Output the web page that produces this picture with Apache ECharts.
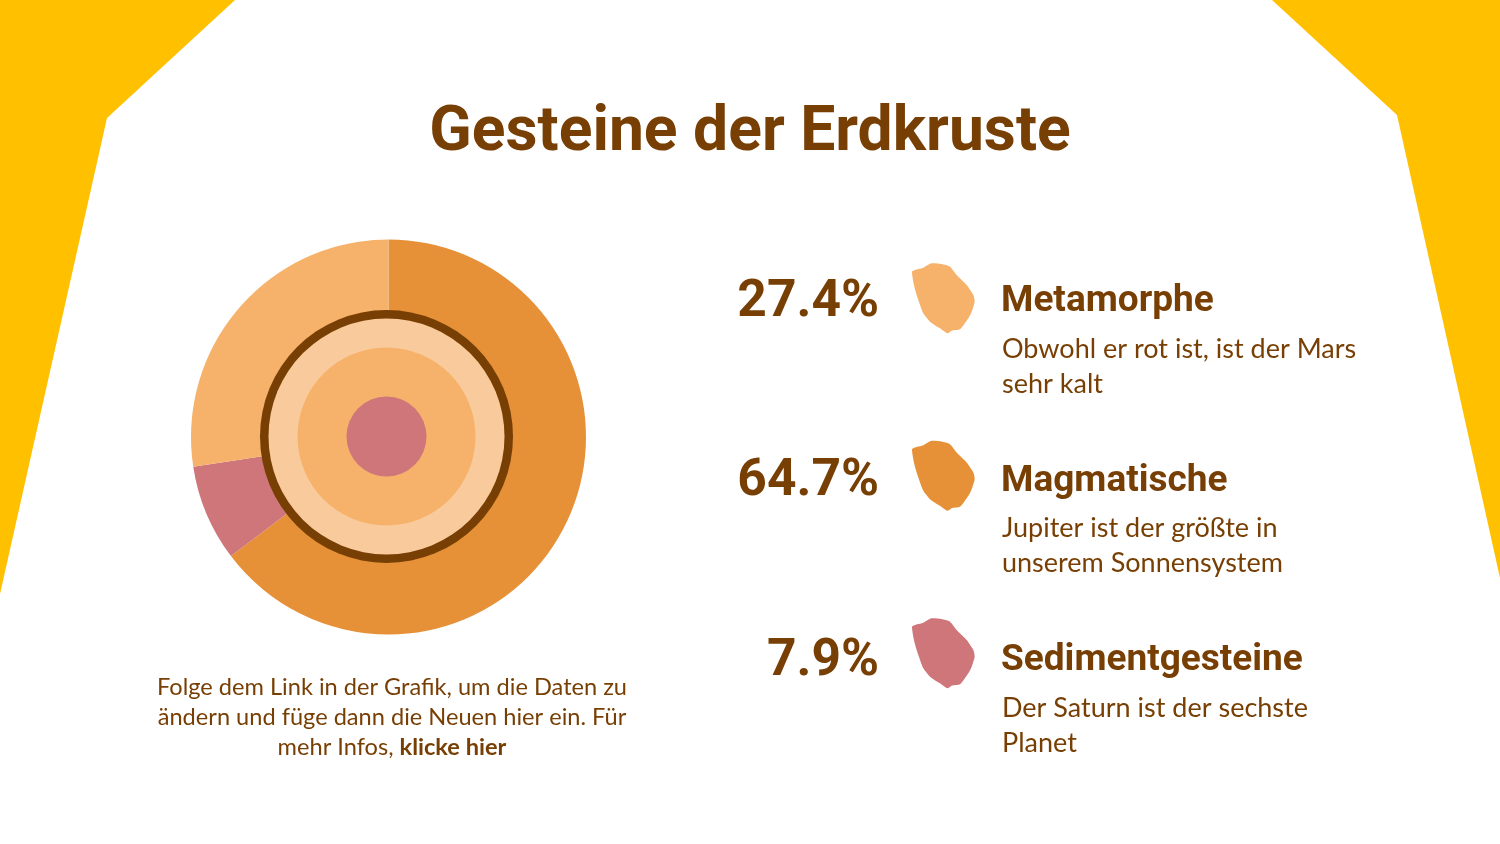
<!DOCTYPE html>
<html><head><meta charset="utf-8">
<style>html,body{margin:0;padding:0;background:#fff}#c{width:1500px;height:844px}</style>
<script src="https://cdn.jsdelivr.net/npm/echarts@6/dist/echarts.min.js"></script>
</head><body><div id="c"></div>
<script>
const categories = ['Magmatische','Sedimentgesteine','Metamorphe'];
const shares = [64.7, 7.9, 27.4];
const sliceColors = ['#e69138','#ce767a','#f6b26b'];
const legendOrder = ['Metamorphe','Magmatische','Sedimentgesteine'];
const legendPct = ['27.4%','64.7%','7.9%'];
const legendColors = ['#f6b26b','#e69138','#ce767a'];
const legendText = [
  ['Obwohl er rot ist, ist der Mars','sehr kalt'],
  ['Jupiter ist der größte in','unserem Sonnensystem'],
  ['Der Saturn ist der sechste','Planet']
];
const BROWN = '#783f04', YELLOW = '#ffc000';
const HEAD = 'Roboto', BODY = 'Lato';
const blob = [[576,65],[585,60],[605,55],[620,47],[635,40],[665,42],[690,50],[710,75],[740,105],[760,135],[764,155],[755,185],[745,205],[720,238],[695,242],[682,250],[660,235],[630,215],[610,190],[595,150],[583,110]]
  .map(p => [720 + p[0] / 3, 250 + p[1] / 3]);
const rowStep = [0, 177.5, 355];
const rowY = [303, 482.5, 662];

const graphic = [
  {type:'polygon',shape:{points:[[0,0],[235,0],[107,118],[0,594]]},style:{fill:YELLOW}},
  {type:'polygon',shape:{points:[[1272,0],[1500,0],[1500,578],[1397,115]]},style:{fill:YELLOW}},
  {type:'text',x:750,y:134,style:{text:'Gesteine der Erdkruste',fill:BROWN,font:'700 62.4px '+HEAD,align:'center',verticalAlign:'middle'}},
  {type:'text',x:392,y:687,style:{text:'Folge dem Link in der Grafik, um die Daten zu',fill:BROWN,font:'400 23.6px '+BODY,align:'center',verticalAlign:'middle'}},
  {type:'text',x:392,y:717,style:{text:'ändern und füge dann die Neuen hier ein. Für',fill:BROWN,font:'400 23.6px '+BODY,align:'center',verticalAlign:'middle'}},
  {type:'text',x:392,y:747,style:{text:'{a|mehr Infos, }{b|klicke hier}',align:'center',verticalAlign:'middle',
    rich:{a:{fill:BROWN,font:'400 23.6px '+BODY},b:{fill:BROWN,font:'700 23.6px '+BODY}}}}
];
legendOrder.forEach((name,i)=>{
  graphic.push({type:'polygon',y:rowStep[i],shape:{points:blob,smooth:0.2},style:{fill:legendColors[i]}});
  graphic.push({type:'text',x:879,y:rowY[i],style:{text:legendPct[i],fill:BROWN,font:'700 51.5px '+HEAD,align:'right',verticalAlign:'middle'}});
  graphic.push({type:'text',x:1001,y:rowY[i]-1,style:{text:name,fill:BROWN,font:'700 37px '+HEAD,align:'left',verticalAlign:'middle'}});
  legendText[i].forEach((t,j)=>{
    graphic.push({type:'text',x:1002,y:rowY[i]+46+j*35,style:{text:t,fill:BROWN,font:'400 27px '+BODY,align:'left',verticalAlign:'middle'}});
  });
});

const ring = (r,color,z)=>({type:'pie',silent:true,z,center:[386.5,436.5],radius:[0,r],startAngle:90,label:{show:false},labelLine:{show:false},animation:false,
  data:[{value:1,itemStyle:{color}}]});
const chart = echarts.init(document.getElementById('c'),null,{renderer:'canvas'});
chart.setOption({
  animation:false,
  backgroundColor:'#fff',
  graphic:{elements:graphic},
  series:[
    {type:'pie',z:2,center:[388.5,437],radius:[0,197.5],startAngle:90,clockwise:true,silent:true,
     label:{show:false},labelLine:{show:false},
     data:categories.map((n,i)=>({name:n,value:shares[i],itemStyle:{color:sliceColors[i]}}))},
    ring(126.5,BROWN,3),
    ring(118,'#f9cb9c',4),
    ring(89,'#f6b26b',5),
    ring(40,'#ce767a',6)
  ]
});
</script></body></html>
